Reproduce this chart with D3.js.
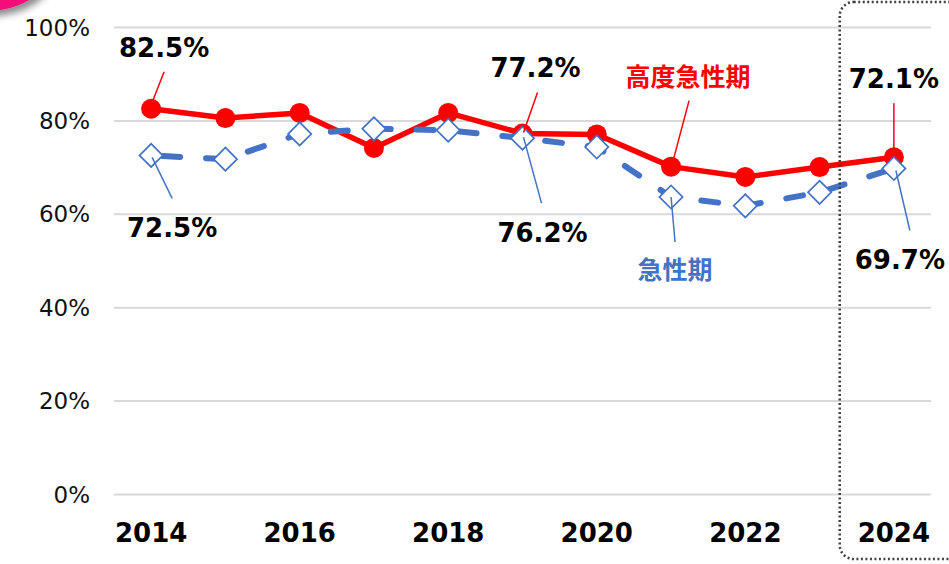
<!DOCTYPE html>
<html lang="ja">
<head>
    <meta charset="UTF-8">
    <title>高度急性期・急性期 病床稼働率の推移</title>
    <script src="https://cdn.jsdelivr.net/npm/d3@7/dist/d3.min.js"></script>
    <style>
        html, body { margin: 0; padding: 0; background: #fff; }
        #chart { width: 949px; height: 564px; overflow: hidden; }
        .num { font-family: "DejaVu Sans", Verdana, sans-serif; }
        .jp { font-family: "Noto Sans CJK JP", "Noto Sans CJK SC", sans-serif; font-weight: 700; }
    </style>
</head>
<body>
    <div id="chart"></div>

    <script>
        // =============================
        // 1. Data
        // =============================
        const years = [2014, 2015, 2016, 2017, 2018, 2019, 2020, 2021, 2022, 2023, 2024];
        const yearTicks = [2014, 2016, 2018, 2020, 2022, 2024];
        const highAcute = [82.5, 80.5, 81.6, 74.1, 81.6, 77.2, 77.0, 70.1, 67.9, 70.0, 72.1];   // 高度急性期
        const acute     = [72.5, 71.7, 77.1, 78.2, 77.9, 76.2, 74.3, 63.6, 61.7, 64.6, 69.7];   // 急性期
        const yTicks = [0, 20, 40, 60, 80, 100];

        // callouts: which series / year, text, label offset and leader line offsets
        const callouts = [
            { s: "high",  year: 2014, text: "82.5%",     jp: false, dx: 13, dy: -52, l0: [13, -37], l1: [2, -9] },
            { s: "acute", year: 2014, text: "72.5%",     jp: false, dx: 21, dy: 82,  l0: [21, 43],  l1: [1, 2] },
            { s: "high",  year: 2019, text: "77.2%",     jp: false, dx: 13, dy: -56, l0: [15, -41], l1: [1, -1] },
            { s: "acute", year: 2019, text: "76.2%",     jp: false, dx: 20, dy: 104, l0: [19, 65],  l1: [1, -1] },
            { s: "high",  year: 2021, text: "高度急性期", jp: true,  dx: 17, dy: -81, l0: [18, -66], l1: [1, -2] },
            { s: "acute", year: 2021, text: "急性期",     jp: true,  dx: 4,  dy: 82,  l0: [4, 45],   l1: [0, 0] },
            { s: "high",  year: 2024, text: "72.1%",     jp: false, dx: 0,  dy: -69, l0: [0, -54],  l1: [0, -4] },
            { s: "acute", year: 2024, text: "69.7%",     jp: false, dx: 6,  dy: 100, l0: [16, 62],  l1: [2, 2] }
        ];

        // =============================
        // 2. SVG Setup
        // =============================
        const width = 949, height = 564;
        const plot = { left: 114, right: 931, top: 27, bottom: 494 };
        const RED = "#FF0000", BLUE = "#4472C4";

        const svg = d3.select("#chart").append("svg")
            .attr("width", width)
            .attr("height", height);

        const x = d3.scaleBand().domain(years).range([plot.left, plot.right]);
        const xc = yr => x(yr) + x.bandwidth() / 2;
        const y = d3.scaleLinear().domain([0, 100]).range([plot.bottom, plot.top]);

        // shadow for the pink corner shape
        const defs = svg.append("defs");
        const f = defs.append("filter").attr("id", "shadow")
            .attr("x", "-50%").attr("y", "-50%").attr("width", "200%").attr("height", "200%");
        f.append("feDropShadow").attr("dx", 4).attr("dy", 5).attr("stdDeviation", 3.5)
            .attr("flood-color", "#000").attr("flood-opacity", 0.45);

        svg.append("ellipse")
            .attr("cx", -20).attr("cy", -30).attr("rx", 70).attr("ry", 42)
            .attr("fill", "#F5097A")
            .attr("filter", "url(#shadow)");

        // =============================
        // 3. Axes & grid
        // =============================
        const yAxis = svg.append("g")
            .attr("transform", `translate(${plot.left},0)`)
            .call(d3.axisLeft(y).tickValues(yTicks)
                .tickSize(-(plot.right - plot.left))
                .tickPadding(24)
                .tickFormat(d => d + "%"));
        yAxis.select(".domain").remove();
        yAxis.selectAll(".tick line").attr("stroke", "#D9D9D9").attr("stroke-width", 2);
        yAxis.selectAll(".tick text")
            .attr("class", "num")
            .attr("font-size", 23)
            .attr("fill", "#111")
            .attr("dy", "0.35em");

        const xAxis = svg.append("g")
            .attr("transform", `translate(0,${plot.bottom})`)
            .call(d3.axisBottom(x).tickValues(yearTicks).tickSize(0).tickPadding(30));
        xAxis.select(".domain").remove();
        xAxis.selectAll(".tick text")
            .attr("class", "num")
            .attr("font-size", 26)
            .attr("font-weight", "bold")
            .attr("fill", "#000");

        // =============================
        // 4. Lines & markers
        // =============================
        const highData = years.map((yr, i) => ({ year: yr, v: highAcute[i] }));
        const acuteData = years.map((yr, i) => ({ year: yr, v: acute[i] }));
        const line = d3.line().x(d => xc(d.year)).y(d => y(d.v));

        svg.append("path").datum(highData)
            .attr("fill", "none").attr("stroke", RED)
            .attr("stroke-width", 5.5).attr("stroke-linejoin", "round")
            .attr("d", line);
        svg.selectAll(".high-pt").data(highData).join("circle")
            .attr("class", "high-pt")
            .attr("cx", d => xc(d.year)).attr("cy", d => y(d.v))
            .attr("r", 10).attr("fill", RED);

        svg.append("path").datum(acuteData)
            .attr("fill", "none").attr("stroke", BLUE)
            .attr("stroke-width", 6).attr("stroke-linecap", "round")
            .attr("stroke-dasharray", "17 26")
            .attr("stroke-dashoffset", -12)
            .attr("d", line);
        const diamond = d3.symbol().type(d3.symbolSquare).size(270);
        svg.selectAll(".acute-pt").data(acuteData).join("path")
            .attr("class", "acute-pt")
            .attr("transform", d => `translate(${xc(d.year)},${y(d.v)}) rotate(45)`)
            .attr("d", diamond)
            .attr("fill", "#fff").attr("stroke", BLUE).attr("stroke-width", 1.7);

        // =============================
        // 5. Callouts
        // =============================
        const lookup = { high: highAcute, acute: acute };
        callouts.forEach(c => {
            const px = xc(c.year);
            const py = y(lookup[c.s][years.indexOf(c.year)]);
            const col = c.s === "high" ? RED : BLUE;
            svg.append("line")
                .attr("x1", px + c.l0[0]).attr("y1", py + c.l0[1])
                .attr("x2", px + c.l1[0]).attr("y2", py + c.l1[1])
                .attr("stroke", col).attr("stroke-width", 1.5);
            svg.append("text")
                .attr("class", c.jp ? "jp" : "num")
                .attr("x", px + c.dx).attr("y", py + c.dy)
                .attr("text-anchor", "middle")
                .attr("font-size", c.jp ? 25 : 26)
                .attr("font-weight", "bold")
                .attr("fill", c.jp ? col : "#000")
                .text(c.text);
        });

        // dotted frame around the latest year
        svg.append("rect")
            .attr("x", x(2024) - 17).attr("y", 2)
            .attr("width", 140).attr("height", 557)
            .attr("rx", 14)
            .attr("fill", "none").attr("stroke", "#404040")
            .attr("stroke-width", 2.5).attr("stroke-dasharray", "2 2.5");
    </script>
</body>
</html>
